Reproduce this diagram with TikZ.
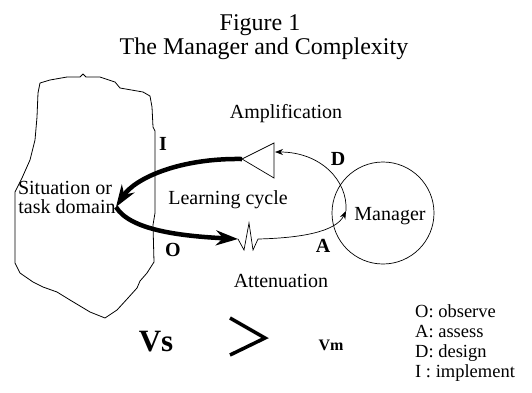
\documentclass[tikz,border=0pt]{standalone}
\usepackage{fontspec}
\setmainfont{Liberation Serif}
\usetikzlibrary{arrows.meta}
\begin{document}
\begin{tikzpicture}[x=1pt,y=-1pt,
  txt/.style={anchor=base,inner sep=0pt,font=\fontsize{20}{24}\selectfont},
  ttl/.style={anchor=base,inner sep=0pt,font=\fontsize{24}{26}\selectfont},
  lbl/.style={anchor=base,inner sep=0pt,font=\fontsize{20}{24}\selectfont\bfseries},
  leg/.style={anchor=base west,inner sep=0pt,font=\fontsize{18.5}{20}\selectfont},
  bigloop/.style={line width=4.5pt,-{Stealth[length=22pt,width=15pt]}},
  thinloop/.style={line width=0.7pt,-{Stealth[length=8pt,width=6pt]}},
  outline/.style={line width=0.8pt,line join=round},
]
\useasboundingbox (0,0) rectangle (532,392);

% title
\node[ttl] (fig) at (260,30) {Figure 1};
\node[ttl] (title) at (264,54) {The Manager and Complexity};

% situation blob
\draw[outline] (40,83) -- (50,80) -- (67,77) -- (80,77) -- (83,74) -- (86,77) -- (100,77)
  -- (115,82) -- (120,88) -- (143,92) -- (150,96) -- (152,107) -- (153,127) -- (155,131)
  -- (155,213) -- (153,225) -- (154,262) -- (147,273) -- (140,281) -- (137,288)
  -- (128,298) -- (117,310) -- (105,318) -- (90,312) -- (70,300) -- (57,292)
  -- (43,287) -- (33,282) -- (20,273) -- (15,263) -- (15,192) -- (22,178)
  -- (30,160) -- (35,140) -- (37,117) -- (38,93) -- cycle;

\node[txt] (sit1) at (65,194) {Situation or};
\node[txt] (sit2) at (67,213) {task domain};

% manager
\node[draw,circle,line width=0.7pt,minimum size=102pt,inner sep=0pt] (mgr) at (383,213) {};
\node[txt] (mgrtxt) at (390,220) {Manager};

% amplifier triangle
\coordinate (apex) at (242,159);
\coordinate (tb) at (274,143);
\coordinate (tc) at (274,178);
\coordinate (tin) at (275,152);
\draw[line width=0.7pt,line join=miter] (apex) -- (tb) -- (tc) -- cycle;

% key points of the cycle
\coordinate (sitpt) at (116,207);
\coordinate (zz0) at (238,239);
\coordinate (zz1) at (244,250);
\coordinate (zz2) at (249,223);
\coordinate (zz3) at (253,250);
\coordinate (zz4) at (258,239);
\coordinate (mgrin) at (346,211);

% thick: implement and observe
\draw[bigloop] (apex) .. controls (180,158) and (135,178) .. (sitpt);
\draw[bigloop] (sitpt) .. controls (130,230) and (180,236) .. (zz0);

% attenuator zigzag
\draw[line width=0.7pt,line join=miter] (zz0) -- (zz1) -- (zz2) -- (zz3) -- (zz4);

% thin: assess and design
\draw[thinloop] (zz4) .. controls (300,238) and (336,232) .. (mgrin);
\draw[thinloop] (mgrin) .. controls (348,180) and (320,152) .. (tin);

% labels
\node[txt] (amp) at (286,118) {Amplification};
\node[txt] (learn) at (228,204) {Learning cycle};
\node[txt] (att) at (281,287) {Attenuation};
\node[lbl] (li) at (163,150) {I};
\node[lbl] (lo) at (173,256) {O};
\node[lbl] (la) at (323,252) {A};
\node[lbl] (ld) at (338,165) {D};

% variety comparison
\node[anchor=base,inner sep=0pt,font=\fontsize{31}{34}\selectfont\bfseries] (vs) at (156,351) {Vs};
\coordinate (gt1) at (230,318);
\coordinate (gt2) at (265,338);
\coordinate (gt3) at (230,355);
\draw[line width=3.5pt,line join=miter] (gt1) -- (gt2) -- (gt3);
\node[anchor=base,inner sep=0pt,font=\fontsize{16}{18}\selectfont\bfseries] (vm) at (331,350) {Vm};

% legend
\node[leg] (l1) at (415,317) {O: observe};
\node[leg] (l2) at (415,337) {A: assess};
\node[leg] (l3) at (415,357) {D: design};
\node[leg] (l4) at (415,377) {I : implement};
\end{tikzpicture}
\end{document}
